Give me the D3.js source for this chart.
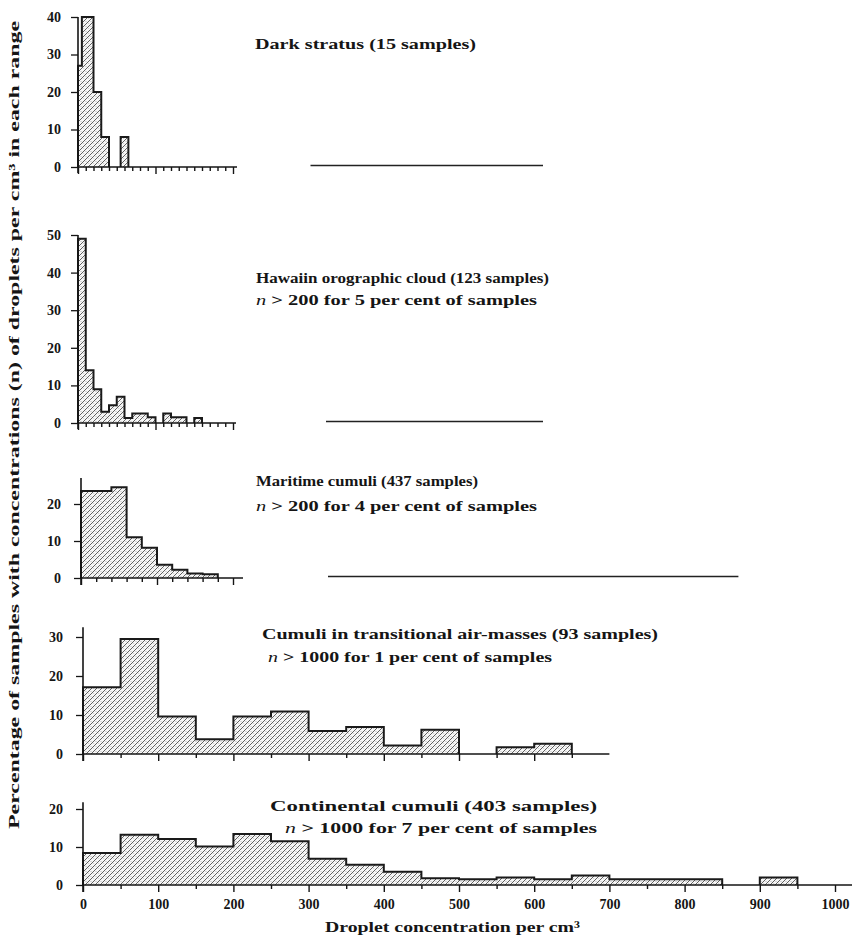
<!DOCTYPE html>
<html><head><meta charset="utf-8">
<script src="https://cdn.jsdelivr.net/npm/d3@7"></script>
<style>
body{margin:0;background:#fff}
svg{display:block}
text{font-family:"Liberation Serif","DejaVu Serif",serif;fill:#151515;font-weight:bold}
</style>
</head><body><svg id="c" width="854" height="942"></svg>
<script>
// ---- data: [lower bound, upper bound, percentage] ----
const darkStratus = [[0,5,27],[5,20,40],[20,30,20],[30,40,8],[55,65,8]];
const hawaiian = [[0,10,49],[10,20,14],[20,30,9],[30,40,3],[40,50,4.7],[50,60,7],[60,70,1.3],[70,90,2.5],[90,100,1.5],[110,120,2.5],[120,140,1.5],[150,160,1.3]];
const maritime = [[0,40,23.5],[40,60,24.5],[60,80,11],[80,100,8.2],[100,120,3.6],[120,140,2.2],[140,160,1.2],[160,180,1]];
const transitional = [[0,50,17.1],[50,100,29.5],[100,150,9.6],[150,200,3.8],[200,250,9.6],[250,300,10.9],[300,350,5.9],[350,400,6.9],[400,450,2.2],[450,500,6.2],[550,600,1.7],[600,650,2.6]];
const continental = [[0,50,8.4],[50,100,13.2],[100,150,12.1],[150,200,10.1],[200,250,13.4],[250,300,11.5],[300,350,6.9],[350,400,5.3],[400,450,3.5],[450,500,1.8],[500,550,1.5],[550,600,2],[600,650,1.5],[650,700,2.5],[700,750,1.5],[750,800,1.5],[800,850,1.5],[900,950,2]];

const titles = ["Dark stratus (15 samples)","Hawaiin orographic cloud (123 samples)","Maritime cumuli (437 samples)","Cumuli in transitional air-masses (93 samples)","Continental cumuli (403 samples)"];
const subtitles = [null," > 200 for 5 per cent of samples"," > 200 for 4 per cent of samples"," > 1000 for 1 per cent of samples"," > 1000 for 7 per cent of samples"];

const yTicks1 = [0,10,20,30,40];
const yTicks2 = [0,10,20,30,40,50];
const yTicks3 = [0,10,20];
const yTicks4 = [0,10,20,30];
const yTicks5 = [0,10,20];
const xTicksFine = d3.range(0,201,10);
const xTicksMaritime = d3.range(0,201,20);
const xTicksTransitional = d3.range(0,651,50);
const xTicksContinental = d3.range(0,1001,50);
const xTickLabels = [0,100,200,300,400,500,600,700,800,900,1000];
// tail segments (drawn level with zero) in each panel's units
const tail1 = [300,600], tail2 = [320,600], tail3 = [325,865];

const yAxisTitle = "Percentage of samples with concentrations (n) of droplets per cm³ in each range";
const xAxisTitle = "Droplet concentration per cm³";

// ---- layout ----
const svg = d3.select("#c");
const defs = svg.append("defs");
const pat = defs.append("pattern").attr("id","hatch").attr("patternUnits","userSpaceOnUse").attr("width",5).attr("height",5);
pat.append("rect").attr("width",5).attr("height",5).attr("fill","#f6f6f6");
pat.append("path").attr("d","M-1,1 l2,-2 M0,5 l5,-5 M4,6 l2,-2").attr("stroke","#3a3a3a").attr("stroke-width",0.8);
pat.append("circle").attr("cx",1).attr("cy",1.5).attr("r",0.45).attr("fill","#777");
pat.append("circle").attr("cx",3.8).attr("cy",3.6).attr("r",0.45).attr("fill","#888");

const panels = [
  {bins:darkStratus, xd:[0,200], xr:[78,233], axEnd:237, yd:[0,40], yr:[167,17], top:40, yt:yTicks1, xt:xTicksFine, major:[0,100,200], tail:tail1, tpad:10,
   title:{x:255,y:49,w:221}, sub:null},
  {bins:hawaiian, xd:[0,200], xr:[78,233], axEnd:236, yd:[0,50], yr:[423,235], top:50, yt:yTicks2, xt:xTicksFine, major:[0,100,200], tail:tail2, tpad:10,
   title:{x:256,y:283,w:293}, sub:{x:256,y:305,w:281}},
  {bins:maritime, xd:[0,200], xr:[81,233], axEnd:243, yd:[0,20], yr:[578,504], top:27, yt:yTicks3, xt:xTicksMaritime, major:[0,100,200], tail:tail3, tpad:13,
   title:{x:256,y:486,w:222}, sub:{x:256,y:511,w:281}},
  {bins:transitional, xd:[0,1000], xr:[83,835], axEnd:null, axEndVal:700, yd:[0,30], yr:[754,637], top:32.5, yt:yTicks4, xt:xTicksTransitional, major:d3.range(0,701,100), tail:null, tpad:13,
   title:{x:262,y:639,w:396}, sub:{x:268,y:662,w:284}},
  {bins:continental, xd:[0,1000], xr:[83,835], axEnd:852, yd:[0,20], yr:[885,809], top:21.8, yt:yTicks5, xt:xTicksContinental, major:xTickLabels, tail:null, tpad:13, labels:true,
   title:{x:270,y:811,w:327}, sub:{x:285,y:833,w:312}}
];

panels.forEach((p,i) => {
  const x = d3.scaleLinear().domain(p.xd).range(p.xr);
  const y = d3.scaleLinear().domain(p.yd).range(p.yr);
  const g = svg.append("g");
  const bins = p.bins.filter(d=>d[2]>0);

  // hatched fill (no stroke)
  g.selectAll("rect.bar").data(bins).join("rect")
    .attr("class","bar")
    .attr("x",d=>x(d[0])).attr("width",d=>x(d[1])-x(d[0])+0.3)
    .attr("y",d=>y(d[2])).attr("height",d=>y(0)-y(d[2]))
    .attr("fill","url(#hatch)");

  // step outline
  const path = d3.path();
  let prevHi = null;
  bins.forEach(d => {
    if (prevHi === null || d[0] !== prevHi) {
      if (prevHi !== null) path.lineTo(x(prevHi), y(0));
      path.moveTo(x(d[0]), y(0));
    }
    path.lineTo(x(d[0]), y(d[2]));
    path.lineTo(x(d[1]), y(d[2]));
    prevHi = d[1];
  });
  path.lineTo(x(prevHi), y(0));
  g.append("path").attr("d",path.toString()).attr("fill","none")
    .attr("stroke","#1a1a1a").attr("stroke-width",2).attr("stroke-linejoin","miter");

  // x axis
  const axEnd = p.axEnd != null ? p.axEnd : x(p.axEndVal);
  g.append("line").attr("x1",p.xr[0]).attr("x2",axEnd).attr("y1",y(0)).attr("y2",y(0))
    .attr("stroke","#151515").attr("stroke-width",1.6);
  const xa = d3.axisBottom(x).tickValues(p.xt).tickSize(4).tickSizeOuter(0)
    .tickFormat(d => p.labels && xTickLabels.includes(d) ? d : "").tickPadding(10);
  const xg = g.append("g").attr("transform",`translate(0,${y(0)})`).call(xa);
  xg.select(".domain").remove();
  xg.selectAll(".tick line").attr("stroke","#151515").attr("stroke-width",1.4)
    .attr("y2", d => p.major.includes(d) ? 7 : 4);
  xg.selectAll(".tick text").attr("font-size",14).attr("fill","#151515")
    .attr("font-family","Liberation Serif, serif").attr("font-weight","bold");

  // y axis
  g.append("line").attr("x1",p.xr[0]).attr("x2",p.xr[0]).attr("y1",y(0)+(i<2?6:7)).attr("y2",y(p.top))
    .attr("stroke","#151515").attr("stroke-width",1.6);
  const ya = d3.axisLeft(y).tickValues(p.yt).tickSize(7).tickSizeOuter(0).tickPadding(p.tpad);
  const yg = g.append("g").attr("transform",`translate(${p.xr[0]},0)`).call(ya);
  yg.select(".domain").remove();
  yg.selectAll(".tick line").attr("stroke","#151515").attr("stroke-width",1.3);
  yg.selectAll(".tick text").attr("font-size",14).attr("fill","#151515")
    .attr("font-family","Liberation Serif, serif").attr("font-weight","bold");

  // tail line
  if (p.tail) {
    g.append("line").attr("x1",x(p.tail[0])).attr("x2",x(p.tail[1]))
      .attr("y1",y(0)-1.5).attr("y2",y(0)-1.5).attr("stroke","#222").attr("stroke-width",1.3);
  }

  // titles
  g.append("text").attr("x",p.title.x).attr("y",p.title.y).attr("font-size",15)
    .attr("textLength",p.title.w).attr("lengthAdjust","spacingAndGlyphs").text(titles[i]);
  if (subtitles[i]) {
    const t = g.append("text").attr("x",p.sub.x).attr("y",p.sub.y).attr("font-size",15)
      .attr("textLength",p.sub.w).attr("lengthAdjust","spacingAndGlyphs");
    t.append("tspan").attr("font-style","italic").attr("font-weight","normal").text("n");
    t.append("tspan").text(subtitles[i]);
  }
});

// axis titles
svg.append("text").attr("transform","translate(19,425) rotate(-90)").attr("text-anchor","middle")
  .attr("font-size",14.5).attr("textLength",808).attr("lengthAdjust","spacingAndGlyphs").text(yAxisTitle);
svg.append("text").attr("x",325).attr("y",932).attr("font-size",15.5)
  .attr("textLength",255).attr("lengthAdjust","spacingAndGlyphs").attr("font-weight","normal").text(xAxisTitle);
</script>
</body></html>
